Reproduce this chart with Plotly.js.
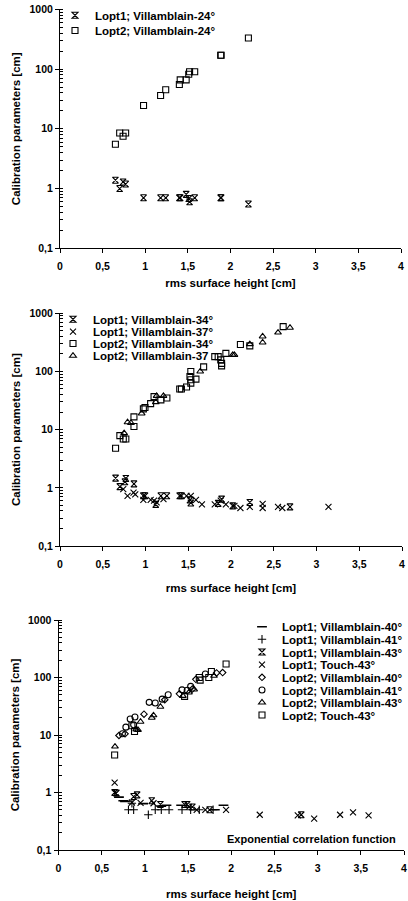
<!DOCTYPE html>
<html><head><meta charset="utf-8">
<script src="https://cdn.plot.ly/plotly-3.0.1.min.js"></script>
<style>html,body{margin:0;padding:0;background:#fff}#chart{width:408px;height:901px}</style>
</head><body><div id="chart"></div>
<script>
// ---------- data ----------
// Panel 1 : Villamblain-24°
var p1_x      = [0.65,0.70,0.74,0.77,0.98,1.18,1.24,1.40,1.41,1.48,1.51,1.52,1.58,1.885,1.89,2.21];
var p1_lopt1  = [1.38,1.00,1.29,1.19,0.70,0.70,0.70,0.70,0.70,0.80,0.68,0.60,0.70,0.70,0.70,0.55];
var p1_lopt2  = [5.5,8.5,7.5,8.5,24.5,36,45,55,66,66,82,90,90,170,170,330];

// Panel 2 : Villamblain-34° / -37°
var p2_l1_v34_x = [0.65,0.70,0.76,0.77,0.865,0.975,0.994,1.12,1.18,1.25,1.40,1.42,1.52,1.53,1.85,1.89,2.02,2.22,2.69];
var p2_l1_v34_y = [1.47,1.05,1.27,1.45,1.17,0.73,0.73,0.52,0.73,0.73,0.73,0.73,0.62,0.55,0.54,0.64,0.49,0.56,0.47];
var p2_l1_v37_x = [0.74,0.79,0.86,0.88,0.975,1.06,1.10,1.13,1.21,1.48,1.53,1.59,1.66,1.81,1.88,1.94,2.04,2.11,2.22,2.37,2.37,2.55,2.60,3.14];
var p2_l1_v37_y = [0.95,0.73,0.83,0.77,0.62,0.62,0.60,0.56,0.64,0.73,0.73,0.62,0.52,0.52,0.60,0.52,0.49,0.45,0.47,0.53,0.45,0.47,0.45,0.47];
var p2_l2_v34_x = [0.65,0.70,0.74,0.77,0.865,0.865,0.975,0.994,1.06,1.10,1.18,1.25,1.40,1.42,1.48,1.52,1.53,1.53,1.53,1.59,1.68,1.81,1.85,1.88,1.89,1.89,1.94,2.11,2.22,2.61];
var p2_l2_v34_y = [4.8,7.9,6.9,6.9,16.6,11.3,22.8,24,28,37,32.5,35,50,50,54,82,100,72,63,74,120,180,180,158,138,125,205,290,275,590];
var p2_l2_v37_x = [0.75,0.79,0.83,0.955,1.12,1.13,1.21,1.64,2.02,2.04,2.22,2.37,2.37,2.55,2.69];
var p2_l2_v37_y = [8.7,13.4,13,19,29.7,38,38,100,193,193,295,400,315,467,565];

// Panel 3 : Villamblain-40°/-41°/-43°, Touch-43°
var p3_l1_v40_x = [0.70,0.75,0.77,0.98,1.19,1.25,1.42,1.81,1.91];
var p3_l1_v40_y = [0.83,0.72,0.70,0.64,0.58,0.60,0.60,0.50,0.60];
var p3_l1_v41_x = [0.81,0.85,0.87,1.04,1.12,1.19,1.28,1.43,1.53,1.63,1.79];
var p3_l1_v41_y = [0.50,0.65,0.50,0.41,0.50,0.50,0.50,0.50,0.50,0.50,0.50];
var p3_l1_v43_x = [0.65,0.67,0.87,0.91,1.08,1.18,1.46,1.49,1.55,1.75,2.81];
var p3_l1_v43_y = [1.00,0.98,0.85,0.91,0.72,0.62,0.62,0.62,0.56,0.50,0.41];
var p3_l1_t43_x = [0.65,0.85,0.95,1.10,1.51,1.60,1.70,1.94,2.33,2.77,2.96,3.26,3.41,3.59];
var p3_l1_t43_y = [1.49,0.67,0.66,0.65,0.56,0.50,0.50,0.50,0.41,0.40,0.35,0.41,0.45,0.40];
var p3_l2_v40_x = [0.70,0.77,0.99,1.23,1.40,1.55,1.59,1.83,1.90];
var p3_l2_v40_y = [9.8,10.5,23,41,52,63,93,120,122];
var p3_l2_v41_x = [0.74,0.78,0.83,0.87,0.885,1.05,1.12,1.20,1.27,1.43,1.49,1.53,1.70];
var p3_l2_v41_y = [10.5,13.7,19,15,20.5,37,36,42,50,61,60,70,115];
var p3_l2_v43_x = [0.654,0.90,0.92,0.95,1.08,1.10,1.18,1.44,1.51,1.57,1.80];
var p3_l2_v43_y = [6.3,12.5,12.3,17,20,22,31,48,55,62,107];
var p3_l2_t43_x = [0.65,0.85,0.88,1.46,1.63,1.64,1.74,1.77,1.94];
var p3_l2_t43_y = [4.5,14.5,11.5,47,100,90,100,127,172];

// tick labels
var xTickVals = [0,0.5,1,1.5,2,2.5,3,3.5,4];
var xTickText = ["0","0,5","1","1,5","2","2,5","3","3,5","4"];
var yTickVals = [0.1,1,10,100,1000];
var yTickText = ["0,1","1","10","100","1000"];

var xTitle = "rms surface height [cm]";
var yTitle = "Calibration parameters [cm]";
var note = "Exponential correlation function";

// ---------- styling ----------
var FONT = "Liberation Sans, Arial, sans-serif";
var W = 408, H = 901;

function tr(x, y, name, sym, size, xa, ya, leg, lw) {
  return {
    type: "scatter", mode: "markers", x: x, y: y, name: name,
    xaxis: xa, yaxis: ya, legend: leg, showlegend: true,
    marker: { symbol: sym, size: size, color: "black",
              line: { color: "black", width: lw || 1.1 } },
    hoverinfo: "x+y+name"
  };
}

var data = [
  tr(p1_x, p1_lopt1, "Lopt1; Villamblain-24°", "hourglass-open", 6, "x", "y", "legend"),
  tr(p1_x, p1_lopt2, "Lopt2; Villamblain-24°", "square-open", 6, "x", "y", "legend2"),

  tr(p2_l1_v34_x, p2_l1_v34_y, "Lopt1; Villamblain-34°", "hourglass-open", 6, "x2", "y2", "legend3"),
  tr(p2_l1_v37_x, p2_l1_v37_y, "Lopt1; Villamblain-37°", "x-thin-open", 6, "x2", "y2", "legend4"),
  tr(p2_l2_v34_x, p2_l2_v34_y, "Lopt2; Villamblain-34°", "square-open", 6, "x2", "y2", "legend5"),
  tr(p2_l2_v37_x, p2_l2_v37_y, "Lopt2; Villamblain-37", "triangle-up-open", 6, "x2", "y2", "legend6"),

  tr(p3_l1_v40_x, p3_l1_v40_y, "Lopt1; Villamblain-40°", "line-ew-open", 7, "x3", "y3", "legend7", 1.6),
  tr(p3_l1_v41_x, p3_l1_v41_y, "Lopt1; Villamblain-41°", "cross-thin-open", 6, "x3", "y3", "legend8"),
  tr(p3_l1_v43_x, p3_l1_v43_y, "Lopt1; Villamblain-43°", "hourglass-open", 6, "x3", "y3", "legend9"),
  tr(p3_l1_t43_x, p3_l1_t43_y, "Lopt1; Touch-43°", "x-thin-open", 6, "x3", "y3", "legend10"),
  tr(p3_l2_v40_x, p3_l2_v40_y, "Lopt2; Villamblain-40°", "diamond-open", 5, "x3", "y3", "legend11"),
  tr(p3_l2_v41_x, p3_l2_v41_y, "Lopt2; Villamblain-41°", "circle-open", 6, "x3", "y3", "legend12"),
  tr(p3_l2_v43_x, p3_l2_v43_y, "Lopt2; Villamblain-43°", "triangle-up-open", 6, "x3", "y3", "legend13"),
  tr(p3_l2_t43_x, p3_l2_t43_y, "Lopt2; Touch-43°", "square-open", 6, "x3", "y3", "legend14")
];

function xax(dom, anchor, standoff) {
  return {
    domain: dom, anchor: anchor, range: [0, 4], type: "linear",
    tickmode: "array", tickvals: xTickVals, ticktext: xTickText,
    showline: true, linecolor: "black", linewidth: 1, mirror: false,
    ticks: "outside", ticklen: 4, tickcolor: "black", tickwidth: 1,
    ticklabelstandoff: 4,
    showgrid: false, zeroline: false,
    tickfont: { family: FONT, size: 10.5, color: "black", weight: 700 },
    title: { text: xTitle, standoff: standoff,
             font: { family: FONT, size: 11.5, color: "black", weight: 700 } },
    automargin: false, fixedrange: true
  };
}
function yax(dom, anchor) {
  return {
    domain: dom, anchor: anchor, type: "log", range: [-1, 3],
    tickmode: "array", tickvals: yTickVals, ticktext: yTickText,
    showline: true, linecolor: "black", linewidth: 1,
    ticks: "outside", ticklen: 4, tickcolor: "black", tickwidth: 1,
    minor: { ticks: "inside", ticklen: 3, tickcolor: "black", dtick: "D1", showgrid: false },
    showgrid: false, zeroline: false,
    tickfont: { family: FONT, size: 10.5, color: "black", weight: 700 },
    title: { text: yTitle, standoff: 6,
             font: { family: FONT, size: 11.5, color: "black", weight: 700 } },
    automargin: false, fixedrange: true
  };
}
function leg(xpx, ypx, fs) {
  return {
    x: xpx / W, y: 1 - ypx / H, xanchor: "left", yanchor: "middle",
    bgcolor: "rgba(0,0,0,0)", borderwidth: 0, itemwidth: 30,
    font: { family: FONT, size: fs, color: "black", weight: 700 },
    itemclick: false, itemdoubleclick: false
  };
}

var layout = {
  width: W, height: H,
  margin: { l: 0, r: 0, t: 0, b: 0, autoexpand: false },
  paper_bgcolor: "white", plot_bgcolor: "white",
  separators: ", ",
  font: { family: FONT, color: "black" },
  xaxis:  xax([60/W, 401/W], "y", 8),
  yaxis:  yax([1 - 248.3/H, 1 - 9.3/H], "x"),
  xaxis2: xax([60/W, 402/W], "y2", 15),
  yaxis2: yax([1 - 546/H, 1 - 313.3/H], "x2"),
  xaxis3: xax([58.5/W, 404/W], "y3", 17),
  yaxis3: yax([1 - 850/H, 1 - 620/H], "x3"),
  legend:   leg(55, 15.3, 11.5),
  legend2:  leg(55, 30.5, 11.5),
  legend3:  leg(53, 319.3, 11.5),
  legend4:  leg(53, 331.7, 11.5),
  legend5:  leg(53, 343.5, 11.5),
  legend6:  leg(53, 355.7, 11.5),
  legend7:  leg(242, 626.7, 11.5),
  legend8:  leg(242, 639.3, 11.5),
  legend9:  leg(242, 652, 11.5),
  legend10: leg(242, 664.7, 11.5),
  legend11: leg(242, 677.3, 11.5),
  legend12: leg(242, 690, 11.5),
  legend13: leg(242, 702.5, 11.5),
  legend14: leg(242, 715, 11.5),
  annotations: [{
    text: note, xref: "paper", yref: "paper",
    x: 398/W, y: 1 - 839/H, xanchor: "right", yanchor: "middle",
    showarrow: false,
    font: { family: FONT, size: 11, color: "black", weight: 700 }
  }]
};

Plotly.newPlot("chart", data, layout, { displayModeBar: false, staticPlot: false, responsive: false });
</script></body></html>
